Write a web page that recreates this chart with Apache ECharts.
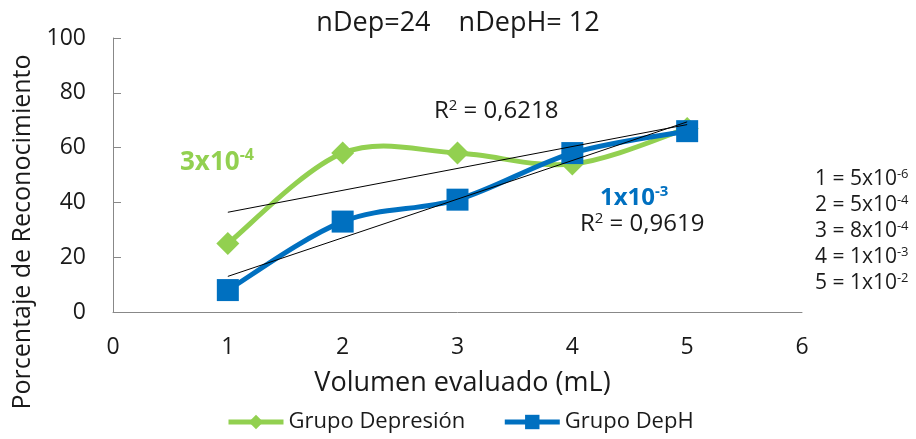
<!DOCTYPE html>
<html>
<head>
<meta charset="utf-8">
<script src="https://cdn.jsdelivr.net/npm/echarts@6/dist/echarts.min.js"></script>
<style>
  html, body { margin: 0; padding: 0; background: #fff; }
  #chart { width: 916px; height: 439px; }
</style>
</head>
<body>
<div id="chart"></div>
<script>
var volumes = [1, 2, 3, 4, 5];
var grupoDepresion = [25, 58, 58, 54, 67];
var grupoDepH = [8, 33, 41, 58, 66];
var concentraciones = ['5x10|-6', '5x10|-4', '8x10|-4', '1x10|-3', '1x10|-2'];

var font = '"Open Sans", Lato, sans-serif';
var green = '#92D050';
var blue = '#0070C0';
var ink = '#1a1a1a';

// ajuste lineal (línea de tendencia)
function trend(xs, ys) {
	var n = xs.length, mx = 0, my = 0;
	for (var i = 0; i < n; i++) { mx += xs[i]; my += ys[i]; }
	mx /= n; my /= n;
	var sxy = 0, sxx = 0;
	for (var i = 0; i < n; i++) {
		sxy += (xs[i] - mx) * (ys[i] - my);
		sxx += (xs[i] - mx) * (xs[i] - mx);
	}
	var b = sxy / sxx, a = my - b * mx;
	var x0 = xs[0], x1 = xs[n - 1];
	return [[x0, a + b * x0], [x1, a + b * x1]];
}

function pairs(xs, ys) {
	return xs.map(function (x, i) { return [x, ys[i]]; });
}

// curva suavizada tipo Excel (Catmull-Rom -> Bezier), por tramos
function curve(name, ys, color) {
	return {
		name: name, type: 'custom', silent: true,
		data: pairs(volumes, ys),
		encode: { x: 0, y: 1 },
		renderItem: function (params, api) {
			var i = params.dataIndex, n = ys.length;
			if (i >= n - 1) return null;
			var P = function (k) {
				k = Math.max(0, Math.min(n - 1, k));
				return api.coord([volumes[k], ys[k]]);
			};
			var p0 = P(i - 1), p1 = P(i), p2 = P(i + 1), p3 = P(i + 2);
			return {
				type: 'bezierCurve',
				shape: {
					x1: p1[0], y1: p1[1], x2: p2[0], y2: p2[1],
					cpx1: p1[0] + (p2[0] - p0[0]) / 6, cpy1: p1[1] + (p2[1] - p0[1]) / 6,
					cpx2: p2[0] - (p3[0] - p1[0]) / 6, cpy2: p2[1] - (p3[1] - p1[1]) / 6
				},
				style: { stroke: color, lineWidth: 5, fill: null, lineCap: 'round' }
			};
		}
	};
}

function markers(name, ys, symbol, size, color) {
	return {
		name: name, type: 'line',
		data: pairs(volumes, ys),
		symbol: symbol, symbolSize: size,
		lineStyle: { color: color, width: 5, opacity: 0 },
		itemStyle: { color: color }
	};
}

var legendLines = concentraciones.map(function (c, i) {
	var p = c.split('|');
	return '{n|' + (i + 1) + ' = ' + p[0] + '}{s|' + p[1] + '}';
}).join('\n');

var chart = echarts.init(document.getElementById('chart'));
chart.setOption({
	animation: false,
	textStyle: { fontFamily: font },
	title: {
		text: 'nDep=24    nDepH= 12',
		left: 'center', top: 5,
		textStyle: { fontFamily: font, fontSize: 27, fontWeight: 'normal', color: ink }
	},
	grid: { left: 113, right: 114, top: 38, bottom: 127, outerBoundsMode: 'none', containLabel: false },
	legend: {
		data: [
			{ name: 'Grupo Depresión', lineStyle: { color: green, width: 5, opacity: 1 } },
			{ name: 'Grupo DepH', lineStyle: { color: blue, width: 5, opacity: 1 } }
		],
		bottom: 1, left: 221,
		itemWidth: 55, itemHeight: 18, itemGap: 37,
		textStyle: { fontFamily: font, fontSize: 22, color: ink }
	},
	xAxis: {
		type: 'value', min: 0, max: 6, interval: 1,
		name: 'Volumen evaluado (mL)', nameLocation: 'middle', nameGap: 58,
		nameTextStyle: { fontFamily: font, fontSize: 27, color: ink, padding: [0, 0, 0, 10] },
		axisLine: { lineStyle: { color: '#888' } },
		axisTick: { show: false },
		axisLabel: { fontFamily: font, fontSize: 23, color: ink, margin: 24 },
		splitLine: { show: false }
	},
	yAxis: {
		type: 'value', min: 0, max: 100, interval: 20,
		axisLine: { show: true, lineStyle: { color: '#888' } },
		axisTick: { show: true, inside: true, length: 8, lineStyle: { color: '#888' } },
		axisLabel: { fontFamily: font, fontSize: 23, color: ink, margin: 27 },
		splitLine: { show: false }
	},
	series: [
		curve('curvaDep', grupoDepresion, green),
		markers('Grupo Depresión', grupoDepresion, 'diamond', 23, green),
		curve('curvaDepH', grupoDepH, blue),
		markers('Grupo DepH', grupoDepH, 'rect', 22, blue),
		{
			name: 'tendencia1', type: 'line', silent: true, symbol: 'none',
			data: trend(volumes, grupoDepresion), z: 5,
			lineStyle: { color: '#000', width: 1 }
		},
		{
			name: 'tendencia2', type: 'line', silent: true, symbol: 'none',
			data: trend(volumes, grupoDepH), z: 5,
			lineStyle: { color: '#000', width: 1 }
		}
	],
	graphic: [
		{
			type: 'text', x: 23, y: 232, rotation: Math.PI / 2,
			style: {
				text: 'Porcentaje de Reconocimiento',
				fontFamily: font, fontSize: 25, fill: ink,
				align: 'center', verticalAlign: 'middle'
			}
		},
		{
			type: 'text', left: 180, top: 147,
			style: {
				text: '{a|3x10}{s|-4}',
				rich: {
					a: { fontFamily: font, fontSize: 26, fontWeight: 'bold', fill: green },
					s: { fontFamily: font, fontSize: 16, fontWeight: 'bold', fill: green, padding: [0, 0, 15, 0] }
				}
			}
		},
		{
			type: 'text', left: 600, top: 184,
			style: {
				text: '{a|1x10}{s|-3}',
				rich: {
					a: { fontFamily: font, fontSize: 24, fontWeight: 'bold', fill: blue },
					s: { fontFamily: font, fontSize: 15, fontWeight: 'bold', fill: blue, padding: [0, 0, 14, 0] }
				}
			}
		},
		{
			type: 'text', left: 434, top: 98,
			style: {
				text: '{a|R}{s|2}{a| = 0,6218}',
				rich: {
					a: { fontFamily: font, fontSize: 24, fill: ink },
					s: { fontFamily: font, fontSize: 15, fill: ink, padding: [0, 0, 11, 0] }
				}
			}
		},
		{
			type: 'text', left: 580, top: 211,
			style: {
				text: '{a|R}{s|2}{a| = 0,9619}',
				rich: {
					a: { fontFamily: font, fontSize: 24, fill: ink },
					s: { fontFamily: font, fontSize: 15, fill: ink, padding: [0, 0, 11, 0] }
				}
			}
		},
		{
			type: 'text', left: 815, top: 168,
			style: {
				text: legendLines,
				rich: {
					n: { fontFamily: font, fontSize: 21, fill: ink, lineHeight: 26 },
					s: { fontFamily: font, fontSize: 13, fill: ink, lineHeight: 26, padding: [0, 0, 10, 0] }
				}
			}
		}
	]
});
</script>
</body>
</html>
